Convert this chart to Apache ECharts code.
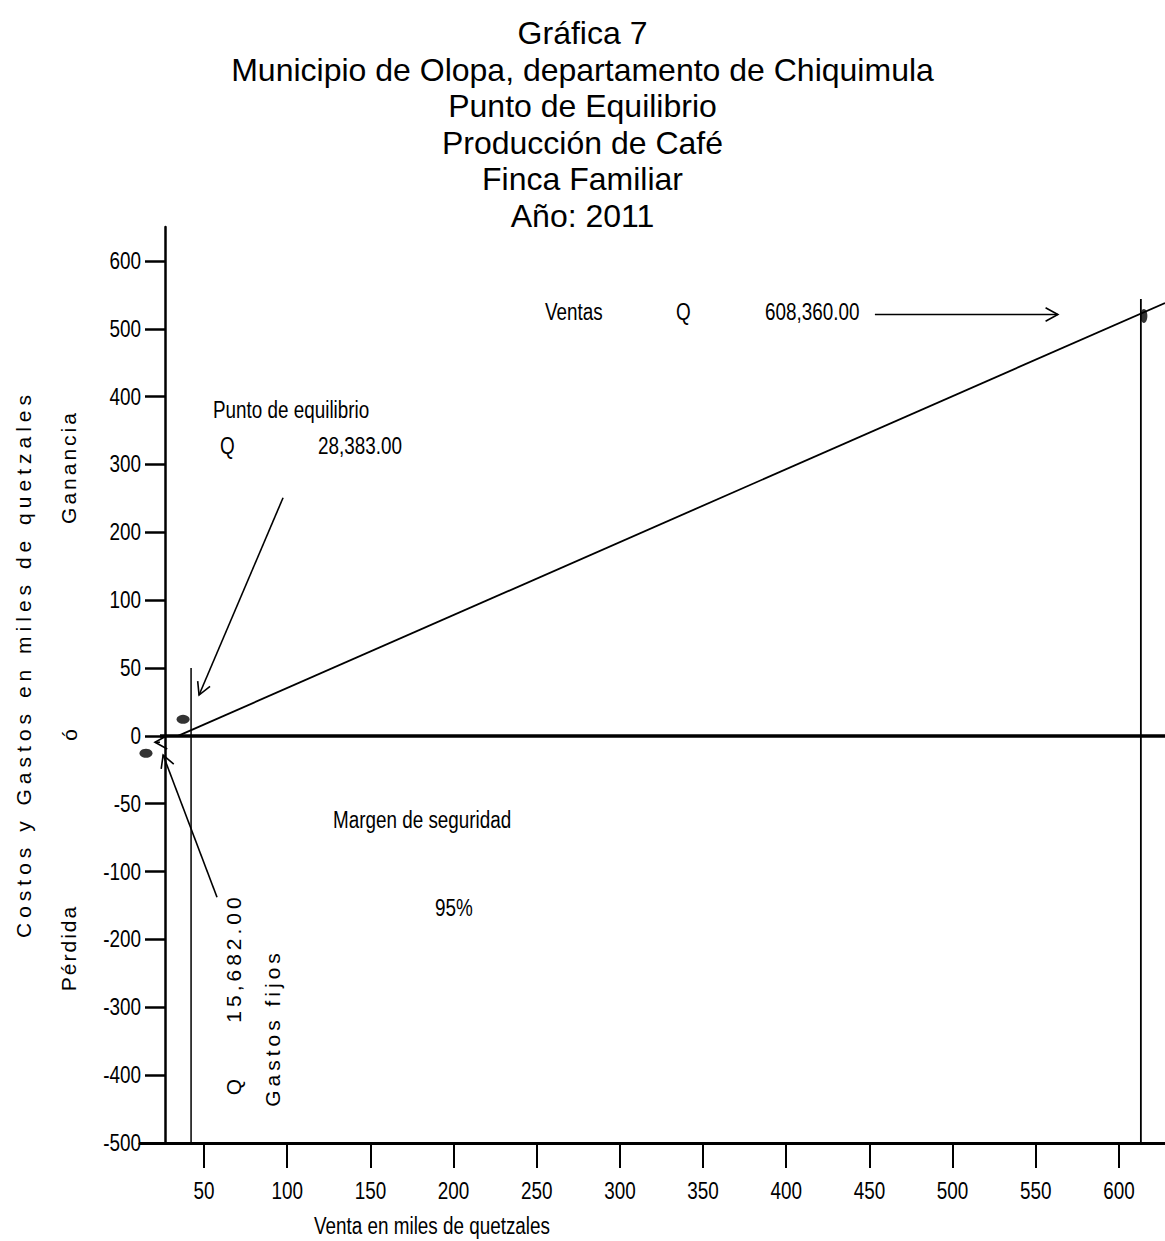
<!DOCTYPE html>
<html>
<head>
<meta charset="utf-8">
<script src="https://cdn.jsdelivr.net/npm/echarts@6/dist/echarts.min.js"></script>
<style>
  html, body { margin: 0; padding: 0; background: #fff; }
  #chart { width: 1165px; height: 1241px; }
</style>
</head>
<body>
<div id="chart"></div>
<script>
// ejes
const xTicks = [50, 100, 150, 200, 250, 300, 350, 400, 450, 500, 550, 600];
const yTicks = [-500, -400, -300, -200, -100, -50, 0, 50, 100, 200, 300, 400, 500, 600];

// lineas (miles de quetzales)
const salesLine = [[34.4, 0], [627.7, 538]];
const zeroLine = [[23.5, 0], [627.7, 0]];
const breakEvenLine = [[42.2, 50], [42.2, -500]];
const salesMarker = [[613.2, 544], [613.2, -500]];
const dots = [[37.4, 12.2], [15.1, -12.8]];
const salesDot = [[615, 519]];
// flechas: x1, y1, x2, y2 (punta en x2, y2)
const arrows = [
  [453.3, 521, 563.3, 521],
  [97.5, 251, 47.0, 30.1],
  [57.8, -137.7, 25.4, -14.1],
  [23.5, -4.7, 20.5, -4.7]
];

const NARROW = "'Liberation Sans Narrow', 'Arial Narrow', 'Liberation Sans', sans-serif";
const REG = "'Liberation Sans', Arial, sans-serif";

// el eje Y no es lineal: cada marca ocupa el mismo espacio
function toIdx(v) {
  const n = yTicks.length;
  for (let i = 0; i < n - 1; i++) {
    if (v <= yTicks[i + 1] || i === n - 2) {
      return i + (v - yTicks[i]) / (yTicks[i + 1] - yTicks[i]);
    }
  }
}
const conv = arr => arr.map(p => [p[0], toIdx(p[1])]);
const idxList = yTicks.map((v, i) => i);

function lineSeries(data, width) {
  return {
    type: 'line', data: conv(data), symbol: 'none', clip: false, silent: true,
    lineStyle: {color: '#000', width: width}
  };
}

function note(x, y, text, extra) {
  return {type: 'text', x: x, y: y, style: Object.assign({text: text, fontFamily: NARROW, fontSize: 23, fill: '#000', textVerticalAlign: 'middle'}, extra || {})};
}
function vnote(x, y, text) {
  return {type: 'text', x: x, y: y, rotation: Math.PI / 2, style: {text: text, fontFamily: REG, fontSize: 21, fill: '#000', textAlign: 'center', textVerticalAlign: 'middle'}};
}

const chart = echarts.init(document.getElementById('chart'), null, {renderer: 'svg'});

const option = {
  animation: false,
  backgroundColor: '#fff',
  title: {
    text: 'Gráfica 7\nMunicipio de Olopa, departamento de Chiquimula\nPunto de Equilibrio\nProducción de Café\nFinca Familiar\nAño: 2011',
    left: 'center',
    top: 10,
    textStyle: {fontFamily: REG, fontSize: 32, fontWeight: 'normal', color: '#000', lineHeight: 36.5}
  },
  grid: {left: 140, right: 0, top: 227, bottom: 98},
  xAxis: {
    type: 'value',
    min: 11.5,
    max: 627.7,
    splitLine: {show: false},
    axisLine: {lineStyle: {color: '#000', width: 3}},
    axisTick: {length: 25, lineStyle: {color: '#000', width: 2}, customValues: xTicks},
    axisLabel: {color: '#000', fontFamily: NARROW, fontSize: 23, margin: 36, customValues: xTicks}
  },
  yAxis: {
    type: 'value',
    min: 0,
    max: 13.5,
    offset: -25,
    splitLine: {show: false},
    axisLine: {lineStyle: {color: '#000', width: 2.5}},
    axisTick: {length: 20, lineStyle: {color: '#000', width: 2.5}, customValues: idxList},
    axisLabel: {
      color: '#000', fontFamily: NARROW, fontSize: 23, margin: 24, customValues: idxList,
      formatter: v => String(yTicks[Math.round(v)])
    }
  },
  graphic: [
    note(545, 312, 'Ventas'),
    note(676, 312, 'Q'),
    note(765, 312, '608,360.00'),
    note(213, 410, 'Punto de equilibrio'),
    note(220, 446, 'Q'),
    note(318, 446, '28,383.00'),
    note(333, 820, 'Margen de seguridad'),
    note(435, 908, '95%'),
    note(432, 1226, 'Venta en miles de quetzales', {textAlign: 'center'}),
    // textos verticales
    vnote(23, 664, 'Costos y Gastos en miles de quetzales'),
    vnote(68, 467, 'Ganancia'),
    vnote(69, 735, 'ó'),
    vnote(68, 948, 'Pérdida'),
    vnote(233, 958, '15,682.00'),
    vnote(233, 1087, 'Q'),
    vnote(272, 1028, 'Gastos fijos')
  ],
  series: [
    lineSeries(zeroLine, 3.5),
    lineSeries(salesLine, 1.8),
    lineSeries(breakEvenLine, 1.5),
    lineSeries(salesMarker, 1.8),
    {
      type: 'scatter', data: conv(dots), symbol: 'circle', symbolSize: [13, 9],
      itemStyle: {color: '#000'}, silent: true
    },
    {
      type: 'scatter', data: conv(salesDot), symbol: 'circle', symbolSize: [7, 14],
      itemStyle: {color: '#000'}, silent: true
    },
    {
      type: 'custom',
      silent: true,
      clip: false,
      data: arrows.map(a => [a[0], toIdx(a[1]), a[2], toIdx(a[3])]),
      renderItem(params, api) {
        const p1 = api.coord([api.value(0), api.value(1)]);
        const p2 = api.coord([api.value(2), api.value(3)]);
        const ang = Math.atan2(p2[1] - p1[1], p2[0] - p1[0]);
        const L = 14, w = 0.5;
        const b1 = [p2[0] - L * Math.cos(ang - w), p2[1] - L * Math.sin(ang - w)];
        const b2 = [p2[0] - L * Math.cos(ang + w), p2[1] - L * Math.sin(ang + w)];
        const st = {stroke: '#000', lineWidth: 1.6, fill: null};
        return {
          type: 'group',
          children: [
            {type: 'line', shape: {x1: p1[0], y1: p1[1], x2: p2[0], y2: p2[1]}, style: st},
            {type: 'polyline', shape: {points: [b1, p2, b2]}, style: st}
          ]
        };
      }
    }
  ]
};

chart.setOption(option);

// espaciado de letras de los textos verticales
const spacing = {
  'Costos y Gastos en miles de quetzales': 5,
  'Ganancia': 3,
  'Pérdida': 2,
  '15,682.00': 4,
  'Gastos fijos': 4
};
// no hay fuente estrecha instalada: se comprime el texto
function applyTextTweaks() {
  document.querySelectorAll('#chart text').forEach(t => {
    const s = spacing[t.textContent];
    if (s) t.style.letterSpacing = s + 'px';
    const f = (t.getAttribute('style') || '') + (t.getAttribute('font-family') || '');
    if (f.indexOf('Narrow') >= 0 && !t.dataset.narrow) {
      const w = t.getComputedTextLength();
      if (w > 0) {
        t.setAttribute('textLength', (w * 0.82).toFixed(1));
        t.setAttribute('lengthAdjust', 'spacingAndGlyphs');
        t.dataset.narrow = '1';
      }
    }
  });
}
chart.on('finished', applyTextTweaks);
applyTextTweaks();
setTimeout(applyTextTweaks, 50);
</script>
</body>
</html>
